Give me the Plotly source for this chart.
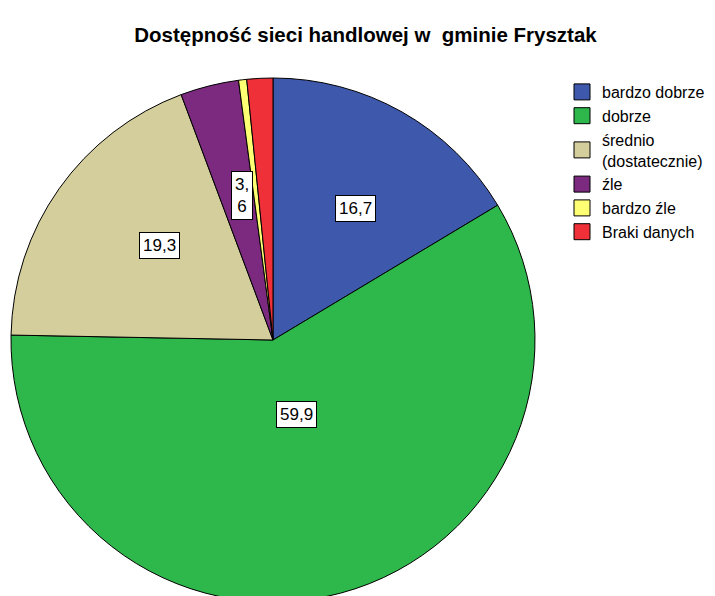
import math

import plotly.graph_objects as go

# ---------------------------------------------------------------------
# Data
# ---------------------------------------------------------------------
categories = ["bardzo dobrze", "dobrze", "średnio<br>(dostatecznie)", "źle", "bardzo źle", "Braki danych"]
shares = [16.4, 58.9, 19.0, 3.6, 0.5, 1.6]
value_labels = ["16,7", "59,9", "19,3", "3,<br>6", "", ""]
colors = ["#3E58AB", "#2EB84B", "#D4CD9C", "#7B2A7F", "#FFFF73", "#EF3038"]

W, H = 715, 596
FONT = "Liberation Sans, Arial, sans-serif"

# pie domain in pixels (margins are zero)
cx, cy, radius = 265, 332, 262
dom_x = [(cx - radius) / W, (cx + radius) / W]
dom_y = [1 - (cy + radius) / H, 1 - (cy - radius) / H]

fig = go.Figure(go.Pie(
    labels=categories,
    values=shares,
    sort=False,
    direction="clockwise",
    rotation=0,
    marker=dict(colors=colors, line=dict(color="#000000", width=1)),
    textinfo="none",
    hoverinfo="label+percent",
    domain=dict(x=dom_x, y=dom_y),
    showlegend=False,
))

# legend with larger swatches than the pie legend gives
for name, col in zip(categories, colors):
    fig.add_trace(go.Scatter(
        x=[None], y=[None], mode="markers", name=name,
        marker=dict(symbol="square", size=16, color=col, line=dict(color="#000000", width=1)),
        hoverinfo="skip",
    ))

# ---------------------------------------------------------------------
# Boxed value labels at the centroid of each slice
# ---------------------------------------------------------------------
total = sum(shares)
cum = 0
for share, lab in zip(shares, value_labels):
    theta = share / total * 2 * math.pi
    mid = cum / total * 2 * math.pi + theta / 2
    cum += share
    if not lab:
        continue
    dist = 2 * radius * math.sin(theta / 2) / (1.5 * theta)
    x = cx + dist * math.sin(mid)
    y = cy - dist * math.cos(mid)
    fig.add_annotation(
        x=x / W, y=1 - y / H, xref="paper", yref="paper",
        text=lab, showarrow=False,
        font=dict(family=FONT, size=17, color="black"),
        bgcolor="white", bordercolor="black", borderwidth=1, borderpad=3,
    )

fig.update_layout(
    width=W,
    height=H,
    margin=dict(l=0, r=0, t=0, b=0),
    paper_bgcolor="white",
    plot_bgcolor="white",
    font=dict(family=FONT, size=16, color="black"),
    xaxis=dict(visible=False),
    yaxis=dict(visible=False),
    title=dict(
        text="<b>Dostępność sieci handlowej w&nbsp; gminie Frysztak</b>",
        x=0.5, y=1 - 27 / H, xanchor="center", yanchor="middle",
        font=dict(family=FONT, size=20.5, color="black"),
    ),
    legend=dict(
        x=554 / W, y=1 - 67 / H, xanchor="left", yanchor="top",
        font=dict(family=FONT, size=16, color="black"),
        bgcolor="rgba(0,0,0,0)",
        tracegroupgap=0,
    ),
)

fig.write_html("out.html")
